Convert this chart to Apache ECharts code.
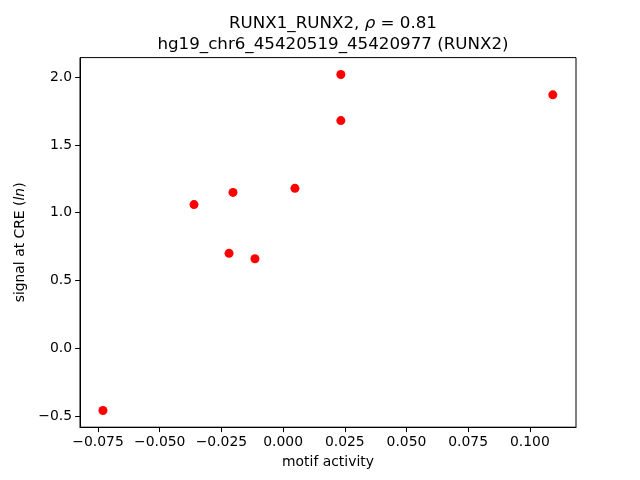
<!DOCTYPE html>
<html>
<head>
<meta charset="utf-8">
<script src="https://cdn.jsdelivr.net/npm/echarts@6/dist/echarts.min.js"></script>
<style>html,body{margin:0;padding:0;background:#fff}#c{width:640px;height:480px}</style>
</head>
<body>
<div id="c"></div>
<script>
var motifActivity = [-0.0730, -0.0361, -0.0203, -0.0219, -0.0114, 0.0048, 0.0234, 0.0234, 0.1093];
var signalAtCRE = [-0.46, 1.06, 1.15, 0.70, 0.66, 1.18, 2.02, 1.68, 1.87];
var xTicks = [-0.075, -0.050, -0.025, 0.000, 0.025, 0.050, 0.075, 0.100];
var yTicks = [-0.5, 0.0, 0.5, 1.0, 1.5, 2.0];

var points = motifActivity.map(function (x, i) { return [x, signalAtCRE[i]]; });
function fmt(v, d) {
  var s = Math.abs(v).toFixed(d);
  return (v < -1e-12 ? '\u2212' : '') + s;
}
var font = 'DejaVu Sans';
var chart = echarts.init(document.getElementById('c'), null, {renderer: 'canvas'});
chart.setOption({
  animation: false,
  backgroundColor: '#fff',
  title: {
    text: '{a|RUNX1_RUNX2, }{i|\u03c1}{a| = 0.81}\n{a|hg19_chr6_45420519_45420977 (RUNX2)}',
    left: 328,
    top: 8,
    textAlign: 'center',
    textStyle: {
      fontWeight: 'normal',
      rich: {
        a: {fontFamily: font, fontSize: 16.7, fontWeight: 'normal', color: '#000', lineHeight: 21},
        i: {fontFamily: font, fontSize: 16.7, fontWeight: 'normal', fontStyle: 'italic', color: '#000', lineHeight: 21}
      }
    }
  },
  grid: {left: 80, right: 64, top: 57.6, bottom: 52.8, show: true, borderColor: '#000', borderWidth: 1, backgroundColor: 'transparent'},
  xAxis: {
    type: 'value',
    min: -0.0823, max: 0.1187,
    name: 'motif activity',
    nameLocation: 'middle',
    nameGap: 28,
    nameTextStyle: {fontFamily: font, fontSize: 13.9, color: '#000'},
    axisLine: {show: true, onZero: false, lineStyle: {color: '#000', width: 1}},
    axisTick: {show: true, length: 4.9, lineStyle: {color: '#000', width: 1}, customValues: xTicks},
    axisLabel: {fontFamily: font, fontSize: 13.9, color: '#000', margin: 8, customValues: xTicks,
      formatter: function (v) { return fmt(v, 3); }},
    splitLine: {show: false}
  },
  yAxis: {
    type: 'value',
    min: -0.583, max: 2.145,
    name: '{a|signal at CRE (}{i|ln}{a|)}',
    nameLocation: 'middle',
    nameGap: 49,
    nameTextStyle: {
      rich: {
        a: {fontFamily: font, fontSize: 13.9, color: '#000'},
        i: {fontFamily: font, fontSize: 13.9, fontStyle: 'italic', color: '#000'}
      }
    },
    axisLine: {show: true, onZero: false, lineStyle: {color: '#000', width: 1}},
    axisTick: {show: true, length: 4.9, lineStyle: {color: '#000', width: 1}, customValues: yTicks},
    axisLabel: {fontFamily: font, fontSize: 13.9, color: '#000', margin: 8, customValues: yTicks,
      formatter: function (v) { return fmt(v, 1); }},
    splitLine: {show: false}
  },
  series: [{
    type: 'scatter',
    data: points,
    symbol: 'circle',
    symbolSize: 9,
    itemStyle: {color: '#ff0000', opacity: 1},
    silent: true
  }]
});
</script>
</body>
</html>
